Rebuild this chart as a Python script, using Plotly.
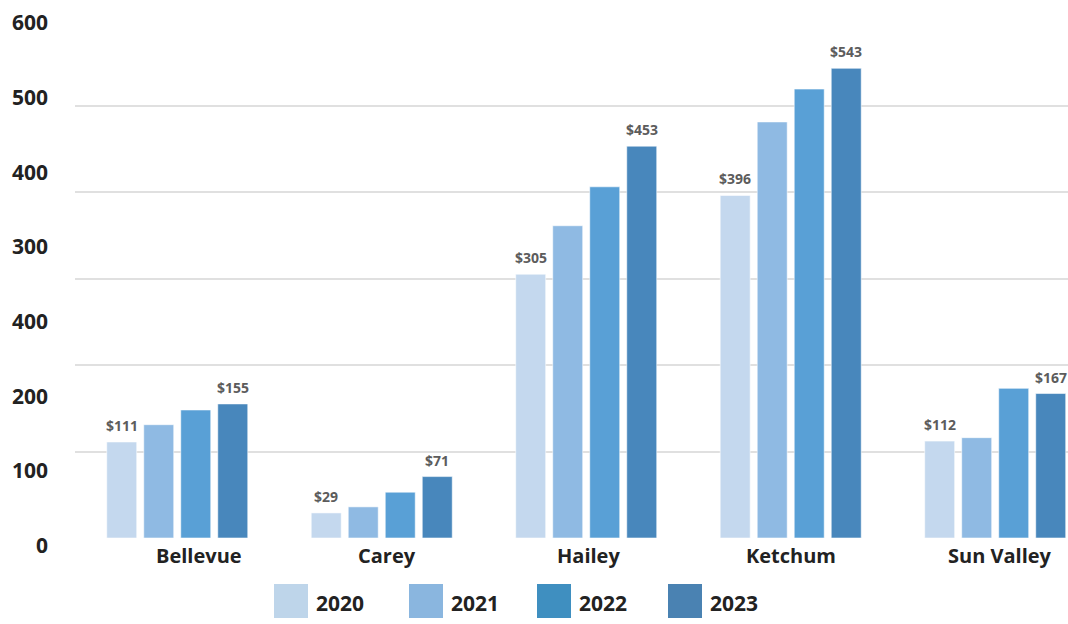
import plotly.graph_objects as go

# Average nightly rate by town and year
towns = ["Bellevue", "Carey", "Hailey", "Ketchum", "Sun Valley"]
years = ["2020", "2021", "2022", "2023"]
rates_2020 = [111, 29, 305, 396, 112]
rates_2021 = [131, 36, 361, 481, 116]
rates_2022 = [148, 53, 406, 519, 173]
rates_2023 = [155, 71, 453, 543, 167]
series = [rates_2020, rates_2021, rates_2022, rates_2023]

# Axis labels printed down the left side (bottom to top)
y_tick_labels = ["0", "100", "200", "400", "300", "400", "500", "600"]

bar_colors = ["#c4d8ee", "#8fbae3", "#59a0d6", "#4887bc"]
legend_colors = ["#bed5ea", "#8ab6df", "#3f8fc0", "#4a82b2"]
label_years = {"2020", "2023"}

FONT = "Open Sans"
SLOT_PX = 37  # horizontal distance between neighbouring bars in a group

fig = go.Figure()
for year, vals, color in zip(years, series, bar_colors):
    fig.add_trace(go.Bar(
        x=towns, y=vals, name=year,
        marker=dict(color=color, line=dict(color="rgba(255,255,255,0.55)", width=1)),
        hoverinfo="x+y+name",
    ))

fig.update_layout(
    width=1068, height=624,
    margin=dict(l=75, r=0, t=19, b=86),
    paper_bgcolor="white", plot_bgcolor="white",
    barmode="group", bargap=0.276, bargroupgap=0.19,
    showlegend=False,
    font=dict(family=FONT, color="#222222"),
)
fig.update_xaxes(range=[-0.5, 4.356], showticklabels=False, showgrid=False,
                 zeroline=False, showline=False, ticks="")
fig.update_yaxes(range=[0, 600], tickvals=[0, 100, 200, 300, 400, 500, 600],
                 showticklabels=False, gridcolor="#e0e0e0", gridwidth=1.5,
                 zeroline=False, showline=False, ticks="")

annotations = []
# Value labels above the first and last bar of each group
for k, (year, vals) in enumerate(zip(years, series)):
    if year not in label_years:
        continue
    for town, v in zip(towns, vals):
        annotations.append(dict(
            text=f"${v}", xref="x", yref="y", x=town, y=v,
            xshift=(k - 1.5) * SLOT_PX, yshift=5,
            xanchor="center", yanchor="bottom", showarrow=False,
            font=dict(family=FONT, size=14, color="#5c5c5c", weight="bold"),
        ))

# Left-hand labels, evenly spaced from the baseline to the top
for i, lab in enumerate(y_tick_labels):
    annotations.append(dict(
        text=lab, xref="paper", yref="paper", x=0, xshift=-25,
        y=-0.0135 + i * 0.1439, xanchor="right", yanchor="middle",
        showarrow=False, font=dict(family=FONT, size=21, color="#222222", weight="bold"),
    ))

# Town names under each group
name_shift = [22, 5, 2, 0, 5]
for town, dx in zip(towns, name_shift):
    annotations.append(dict(
        text=town, xref="x", yref="paper", x=town, xshift=dx,
        y=-0.034, xanchor="center", yanchor="middle", showarrow=False,
        font=dict(family=FONT, size=20, color="#222222", weight="bold"),
    ))

# Legend: large square swatches with year labels
swatch_x = [274, 409, 537, 668]
shapes = []
for year, color, px in zip(years, legend_colors, swatch_x):
    shapes.append(dict(
        type="rect", xref="paper", yref="paper",
        x0=(px - 75) / 993, x1=(px + 34 - 75) / 993,
        y0=(538 - 618) / 519, y1=(538 - 584) / 519,
        fillcolor=color, line=dict(width=0),
    ))
    annotations.append(dict(
        text=year, xref="paper", yref="paper",
        x=(px + 40 - 75) / 993, y=(538 - 603) / 519,
        xanchor="left", yanchor="middle", showarrow=False,
        font=dict(family=FONT, size=21, color="#222222", weight="bold"),
    ))

fig.update_layout(annotations=annotations, shapes=shapes)
fig.write_html("out.html")
